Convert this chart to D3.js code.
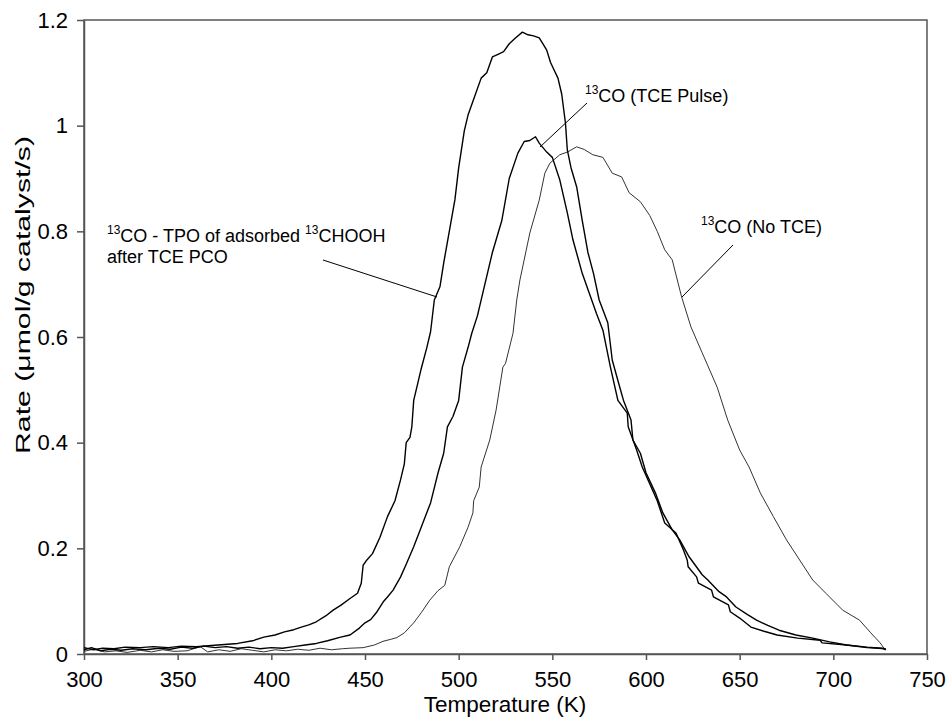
<!DOCTYPE html>
<html>
<head>
<meta charset="utf-8">
<script src="https://cdn.jsdelivr.net/npm/d3@7"></script>
<style>
  body { margin: 0; background: #fff; }
  text { font-family: "Liberation Sans", Arial, sans-serif; }
</style>
</head>
<body>
<svg id="chart" width="947" height="717"></svg>
<script>
// 13CO - TPO of adsorbed 13CHOOH after TCE PCO
const tempTPO = [300,305,310,316,322,330,337,345,352,360,368,375,382,390,396,402,407,412,416,420,424,429,433,437,442,446,448,449,451,454,458,462,466,469,471,472,474,475,476,478,480,483,485,487,490,492,495,498,500,503,505,508,512,515,518,521,524,527,530,534,537,540,543,545,547,549,551,553,555,557,558,560,563,566,569,572,575,579.6,582,586,588,592,593,597,600,605,609,614,618,623,630,633,639,643,648,654,659,665,671,680,689,698,707,718,726,728];
const rateTPO = [0.012,0.008,0.011,0.010,0.013,0.012,0.014,0.012,0.015,0.014,0.016,0.018,0.020,0.025,0.032,0.036,0.042,0.046,0.051,0.055,0.061,0.072,0.083,0.092,0.105,0.115,0.134,0.168,0.178,0.190,0.221,0.260,0.290,0.330,0.360,0.400,0.410,0.430,0.480,0.510,0.540,0.580,0.610,0.670,0.695,0.740,0.800,0.860,0.920,0.990,1.020,1.050,1.090,1.100,1.130,1.135,1.140,1.155,1.165,1.177,1.172,1.170,1.166,1.155,1.143,1.120,1.105,1.090,1.060,1.005,0.954,0.920,0.884,0.820,0.760,0.720,0.670,0.627,0.556,0.505,0.480,0.443,0.405,0.380,0.343,0.305,0.267,0.235,0.216,0.184,0.150,0.140,0.118,0.108,0.089,0.075,0.064,0.054,0.045,0.036,0.030,0.023,0.017,0.013,0.011,0.008];

// 13CO (TCE Pulse)
const tempPulse = [300,304,309,314,320,326,333,340,346,352,358,364,370,376,382,388,394,400,406,412,418,424,430,437,442,447,450,453,456,460,462,465,469,472,476,480,485,489,492,494,497,500,502,505,507,510,514,518,523,527,531.6,535,538,541,543,547,550,554,558,561,566,572,573.5,577,581,585,590,590.5,595,598,606,610,616,620,622,622.5,627,628,635,636,644,645,650,656,663,670,681,693,694,707,718,728];
const ratePulse = [0.008,0.012,0.006,0.009,0.007,0.010,0.008,0.011,0.009,0.013,0.011,0.015,0.012,0.014,0.011,0.013,0.010,0.012,0.011,0.014,0.017,0.020,0.025,0.032,0.036,0.049,0.059,0.065,0.078,0.100,0.108,0.121,0.146,0.170,0.203,0.240,0.286,0.343,0.380,0.430,0.450,0.480,0.543,0.580,0.607,0.640,0.700,0.760,0.820,0.900,0.948,0.970,0.972,0.979,0.967,0.950,0.940,0.897,0.835,0.784,0.720,0.660,0.645,0.613,0.543,0.480,0.456,0.430,0.386,0.354,0.290,0.248,0.229,0.197,0.178,0.165,0.146,0.134,0.121,0.108,0.093,0.080,0.068,0.051,0.043,0.036,0.030,0.026,0.021,0.017,0.012,0.010];

// 13CO (No TCE)
const tempNoTCE = [300,305,311,317,323,330,336,342,348,355,362,366,372,378,384,390,396,402,408,414,420,426,432,438,442,449,455,459.6,464,467,471,476,480,484.6,489,492.6,495,500.6,505,507.6,508,511,512,516.6,520,523.6,525,529,531,532.7,538,543,546,548.7,554,558,563,567,571.6,577,582,587,591,597,602,606,610,614,619,624,630,638,643.6,650,655,661,668,675,682,689,696,705,714,720,725,727,728];
const rateNoTCE = [0.005,0.009,0.004,0.006,0.003,0.007,0.004,0.008,0.005,0.006,0.014,0.004,0.008,0.005,0.010,0.007,0.004,0.008,0.006,0.009,0.007,0.011,0.008,0.010,0.011,0.012,0.017,0.024,0.028,0.031,0.040,0.059,0.078,0.102,0.120,0.130,0.165,0.203,0.240,0.267,0.290,0.316,0.354,0.405,0.462,0.543,0.550,0.607,0.670,0.708,0.797,0.859,0.910,0.929,0.945,0.950,0.960,0.955,0.945,0.940,0.910,0.903,0.873,0.856,0.830,0.800,0.765,0.746,0.676,0.619,0.570,0.505,0.443,0.386,0.354,0.305,0.260,0.216,0.178,0.140,0.115,0.083,0.064,0.040,0.021,0.011,0.008];

const xTicks = [300,350,400,450,500,550,600,650,700,750];
const yTicks = [0,0.2,0.4,0.6,0.8,1,1.2];

const svg = d3.select("#chart");
const plotLeft = 84, plotRight = 927, plotTop = 20, plotBottom = 654;

const x = d3.scaleLinear().domain([300, 750]).range([plotLeft, plotRight]);
const y = d3.scaleLinear().domain([0, 1.2]).range([plotBottom, plotTop]);

// frame
svg.append("rect")
  .attr("x", plotLeft).attr("y", plotTop)
  .attr("width", plotRight - plotLeft).attr("height", plotBottom - plotTop)
  .attr("fill", "none").attr("stroke", "#555").attr("stroke-width", 1.5);

var xAxis = svg.append("g")
  .attr("transform", "translate(0," + plotBottom + ")")
  .call(d3.axisBottom(x).tickValues(xTicks).tickSize(6).tickSizeOuter(0).tickPadding(11));
var yAxis = svg.append("g")
  .attr("transform", "translate(" + plotLeft + ",0)")
  .call(d3.axisLeft(y).tickValues(yTicks).tickSize(7).tickSizeOuter(0).tickPadding(9)
    .tickFormat(d => d3.format("")(d)));

[xAxis, yAxis].forEach(function (g) {
  g.select(".domain").attr("stroke", "#555").attr("stroke-width", 1.5);
  g.selectAll(".tick line").attr("stroke", "#555").attr("stroke-width", 1.5);
  g.selectAll(".tick text").attr("fill", "#000").style("font-size", "22px")
    .style("font-family", "'Liberation Sans', Arial, sans-serif");
});

const line = d3.line().x(d => x(d[0])).y(d => y(d[1]));

function addSeries(temps, rates, color, width) {
  svg.append("path")
    .datum(d3.zip(temps, rates))
    .attr("d", line)
    .attr("fill", "none")
    .attr("stroke", color)
    .attr("stroke-width", width)
    .attr("stroke-linejoin", "round");
}

addSeries(tempNoTCE, rateNoTCE, "#333", 1);
addSeries(tempPulse, ratePulse, "#000", 1.4);
addSeries(tempTPO, rateTPO, "#000", 1.4);

// axis titles
svg.append("text")
  .attr("x", 505).attr("y", 712)
  .attr("text-anchor", "middle").style("font-size", "22.5px")
  .text("Temperature (K)");

svg.append("text")
  .attr("transform", "translate(30," + 295 + ") rotate(-90)")
  .attr("text-anchor", "middle").style("font-size", "21px")
  .attr("textLength", 318).attr("lengthAdjust", "spacingAndGlyphs")
  .text("Rate (\u03BCmol/g catalyst/s)");

// annotations
function label(xp, yp, parts) {
  var t = svg.append("text").attr("x", xp).attr("y", yp).style("font-size", "18px");
  parts.forEach(function (p) {
    if (p.sup) {
      t.append("tspan").attr("dy", -8).style("font-size", "12px").text(p.sup);
      t.append("tspan").attr("dy", 8).text(p.t);
    } else {
      t.append("tspan").text(p.t);
    }
  });
  return t;
}

label(107, 242, [{sup: "13", t: "CO - TPO of adsorbed "}, {sup: "13", t: "CHOOH"}]);
label(107, 263, [{t: "after TCE PCO"}]);
label(585, 102, [{sup: "13", t: "CO (TCE Pulse)"}]);
label(701, 233, [{sup: "13", t: "CO (No TCE)"}]);

const leaders = [
  [[323, 260], [437, 297]],
  [[587, 103], [540, 147]],
  [[733, 245], [682, 297]]
];
leaders.forEach(function (l) {
  svg.append("line")
    .attr("x1", l[0][0]).attr("y1", l[0][1])
    .attr("x2", l[1][0]).attr("y2", l[1][1])
    .attr("stroke", "#000").attr("stroke-width", 1);
});
</script>
</body>
</html>
